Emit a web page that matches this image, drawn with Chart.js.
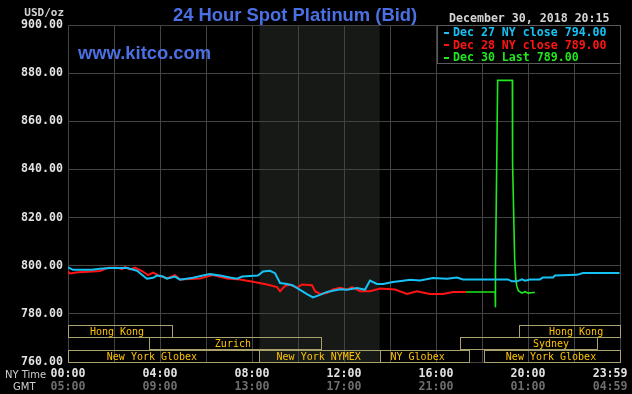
<!DOCTYPE html>
<html>
<head>
<meta charset="utf-8">
<script src="https://cdn.jsdelivr.net/npm/chart.js@4.4.1/dist/chart.umd.min.js"></script>
<style>
  html, body { margin: 0; padding: 0; background: #000; }
  #wrap { width: 632px; height: 394px; }
</style>
</head>
<body>
<div id="wrap"><canvas id="chart"></canvas></div>
<script>
// 24 Hour Spot Platinum (Bid) – kitco style chart

/* ── data (hours after midnight NY time, USD/oz) ───────────── */
const cyanHours  = [0,0.22,1.04,1.39,1.83,2.57,3.0,3.43,3.70,3.87,4.13,4.30,4.65,4.87,5.43,5.87,6.17,6.61,7.04,7.35,7.57,8.26,8.48,8.78,9.0,9.22,9.52,9.78,10.09,10.39,10.65,10.96,11.26,11.52,11.83,12.13,12.57,12.91,13.13,13.43,13.70,14.13,14.57,14.87,15.30,15.87,16.48,16.91,17.17,19.13,19.30,19.52,19.74,19.87,20.09,20.52,20.65,21.09,21.17,22.13,22.39,23.98];
const cyanValues = [799.3,798.3,798.3,798.7,799.1,799.0,797.9,794.6,795.0,795.9,795.5,794.6,795.5,794.2,795.0,795.9,796.5,795.9,795.1,794.6,795.5,795.9,797.6,797.9,796.9,792.8,792.4,791.8,790.0,788.2,786.8,787.9,789.1,789.6,790.2,790.0,790.7,790.0,793.8,792.4,792.4,793.2,793.8,794.2,793.9,794.9,794.6,795.1,794.3,794.3,793.5,793.5,794.3,793.8,794.3,794.3,795.1,795.1,795.9,796.2,797.0,797.0];

const redHours  = [0,0.09,0.43,1.09,1.39,1.74,2.13,2.35,2.48,2.70,2.91,3.22,3.48,3.70,3.91,4.30,4.65,4.87,5.74,6.30,6.91,7.48,8.04,8.65,9.09,9.22,9.43,9.65,9.96,10.17,10.61,10.74,10.96,11.26,11.52,11.83,12.13,12.35,12.70,13.13,13.57,14.22,14.74,15.17,15.74,16.30,16.74,17.30];
const redValues = [797.6,796.8,797.3,797.6,797.8,799.2,799.2,798.6,799.5,798.5,799.2,797.8,796.1,797.1,796.1,794.7,796.1,794.3,794.7,796.1,794.7,794.3,793.3,792.2,791.1,789.4,791.5,792.2,790.8,792.2,791.9,789.4,788.3,788.7,790.1,790.8,790.1,791.1,789.4,789.4,790.5,790.1,788.3,789.4,788.3,788.3,789.1,789.1];

const greenHours  = [17.30,18.57,18.57,18.60,18.64,18.68,19.32,19.33,19.38,19.42,19.47,19.51,19.58,19.73,19.87,20.01,20.23,20.30];
const greenValues = [789.1,789.1,782.7,798.5,842.0,877.0,877.0,842.7,820.6,802.7,794.4,791.6,789.6,788.6,789.2,788.6,788.9,788.9];

const legendLabels = ["Dec 27 NY close 794.00", "Dec 28 NY close 789.00", "Dec 30 Last 789.00"];

// axis ticks
const gridHours    = [0,2,4,6,8,10,12,14,16,18,20,22,24];
const labelHours   = [0,4,8,12,16,20,23.57];
const nyLabels     = ["00:00","04:00","08:00","12:00","16:00","20:00","23:59"];
const gmtLabels    = ["05:00","09:00","13:00","17:00","21:00","01:00","04:59"];

// trading sessions (row 0 = top)
const sessionNames   = ["Hong Kong","Zurich","New York Globex","New York NYMEX","NY Globex","Sydney","New York Globex","Hong Kong"];
const sessionStart   = [0,   3.5, 0,    8.3,  13.55, 17.04, 18.08, 19.6];
const sessionEnd     = [4.5, 11,  8.3,  13.55,17.43, 23.0,  24,    24];
const sessionRow     = [0,   1,   2,    2,    2,     1,     2,     0];
const sessionLabelAt = [2.13,7.17,3.65, 10.9, 15.2,  21.0,  21.0,  22.09];

const nymexShade = [8.33, 13.55];

/* ── colours / fonts ───────────────────────────────────────── */
const GRID  = "#434343";
const CYAN  = "#16c2f4";
const RED   = "#ff1414";
const GREEN = "#1ee81e";
const MONO  = "'DejaVu Sans Mono', monospace";

const toXY = (hs, vs) => hs.map((h, i) => ({ x: h, y: vs[i] }));

/* ── decorations drawn around the chart ───────────────────── */
const decor = {
  id: "decor",
  beforeDraw(chart) {
    const { ctx, chartArea: a, scales: { x } } = chart;
    ctx.save();
    ctx.fillStyle = "#000";
    ctx.fillRect(0, 0, chart.width, chart.height);
    const x1 = x.getPixelForValue(nymexShade[0]);
    const x2 = x.getPixelForValue(nymexShade[1]);
    ctx.fillStyle = "#161916";
    ctx.fillRect(x1, a.top, x2 - x1, a.bottom - a.top);
    ctx.restore();
  },
  afterDraw(chart) {
    const { ctx, chartArea: a, scales: { x } } = chart;
    ctx.save();

    // session boxes
    const rowH = 12.4;
    ctx.font = "10px " + MONO;
    ctx.textAlign = "center";
    ctx.textBaseline = "middle";
    sessionNames.forEach((name, i) => {
      const xa = Math.round(x.getPixelForValue(sessionStart[i]));
      const xb = Math.round(x.getPixelForValue(sessionEnd[i]));
      const top = Math.round(a.bottom - (3 - sessionRow[i]) * rowH);
      ctx.strokeStyle = "#a9a26c";
      ctx.lineWidth = 1;
      ctx.strokeRect(xa + 0.5, top + 0.5, xb - xa, Math.round(rowH));
      ctx.fillStyle = "#ffc400";
      ctx.fillText(name, x.getPixelForValue(sessionLabelAt[i]), top + rowH / 2 + 1);
    });

    // title + url
    ctx.textAlign = "left";
    ctx.textBaseline = "alphabetic";
    ctx.fillStyle = "#4b70e4";
    ctx.font = "bold 18.4px 'Liberation Sans', Arial, sans-serif";
    ctx.fillText("24 Hour Spot Platinum (Bid)", 173, 21);
    ctx.fillText("www.kitco.com", 78, 59);

    // unit + date
    ctx.fillStyle = "#d4d4d4";
    ctx.font = "bold 11px " + MONO;
    ctx.textAlign = "right";
    ctx.fillText("USD/oz", 64, 16);
    ctx.textAlign = "left";
    ctx.font = "bold 11.6px " + MONO;
    ctx.fillText("December 30, 2018 20:15", 449, 22);

    // legend box
    ctx.fillStyle = "#000";
    ctx.fillRect(437, a.top, a.right - 437, 38);
    ctx.strokeStyle = "#5a5a5a";
    ctx.strokeRect(437.5, a.top + 0.5, a.right - 437, 38);
    const cols = [CYAN, RED, GREEN];
    ctx.textBaseline = "middle";
    legendLabels.forEach((t, i) => {
      const yy = a.top + 7.5 + i * 12.5;
      ctx.fillStyle = cols[i];
      ctx.fillRect(444, Math.round(yy) - 1, 5, 2);
      ctx.fillText(t, 453, yy + 0.5);
    });

    // axis row captions
    ctx.fillStyle = "#d0d0d0";
    ctx.font = "10px 'DejaVu Sans', sans-serif";
    ctx.textAlign = "left";
    ctx.fillText("NY Time", 5, 375);
    ctx.fillText("GMT", 13, 387);

    ctx.restore();
  }
};

/* ── tick helpers ──────────────────────────────────────────── */
const allTicks = gridHours.concat([labelHours[labelHours.length - 1]]).sort((p, q) => p - q);
const labelFor = (list) => (v) => {
  const i = labelHours.indexOf(v);
  return i >= 0 ? list[i] : "";
};

/* ── chart ─────────────────────────────────────────────────── */
new Chart(document.getElementById("chart"), {
  type: "line",
  data: {
    datasets: [
      { label: legendLabels[0], data: toXY(cyanHours, cyanValues),   borderColor: CYAN,  borderWidth: 2 },
      { label: legendLabels[1], data: toXY(redHours, redValues),     borderColor: RED,   borderWidth: 2 },
      { label: legendLabels[2], data: toXY(greenHours, greenValues), borderColor: GREEN, borderWidth: 1.6 },
    ],
  },
  options: {
    responsive: true, maintainAspectRatio: false,
    animation: false,
    devicePixelRatio: 1,
    elements: { point: { radius: 0 }, line: { tension: 0, borderJoinStyle: "miter" } },
    layout: { padding: { left: 0, right: 12, top: 25, bottom: 0 } },
    plugins: { legend: { display: false }, tooltip: { enabled: false } },
    scales: {
      x: {
        type: "linear", min: 0, max: 24, position: "bottom",
        afterBuildTicks: s => { s.ticks = allTicks.map(v => ({ value: v })); },
        afterFit: s => { s.height = 18; s.paddingLeft = 0; s.paddingRight = 0; },
        ticks: {
          autoSkip: false, maxRotation: 0, padding: 5,
          color: "#e2e2e2", font: { family: MONO, size: 11.6, weight: "bold" },
          callback: labelFor(nyLabels),
        },
        grid: {
          drawTicks: false,
          color: c => (c.tick && c.tick.value === labelHours[labelHours.length - 1]) ? "rgba(0,0,0,0)" : GRID,
        },
        border: { color: GRID },
      },
      x2: {
        type: "linear", min: 0, max: 24, position: "bottom",
        afterBuildTicks: s => { s.ticks = allTicks.map(v => ({ value: v })); },
        afterFit: s => { s.height = 14; s.paddingLeft = 0; s.paddingRight = 0; },
        ticks: {
          autoSkip: false, maxRotation: 0, padding: 0,
          color: "#6e6e6e", font: { family: MONO, size: 11.6, weight: "bold" },
          callback: labelFor(gmtLabels),
        },
        grid: { display: false, drawTicks: false },
        border: { display: false },
      },
      y: {
        min: 760, max: 900,
        afterFit: s => { s.width = 68; },
        ticks: {
          stepSize: 20, padding: 5,
          color: "#e2e2e2", font: { family: MONO, size: 11.6, weight: "bold" },
          callback: v => v.toFixed(2),
        },
        grid: { drawTicks: false, color: GRID },
        border: { color: GRID },
      },
    },
  },
  plugins: [decor],
});
</script>
</body>
</html>
